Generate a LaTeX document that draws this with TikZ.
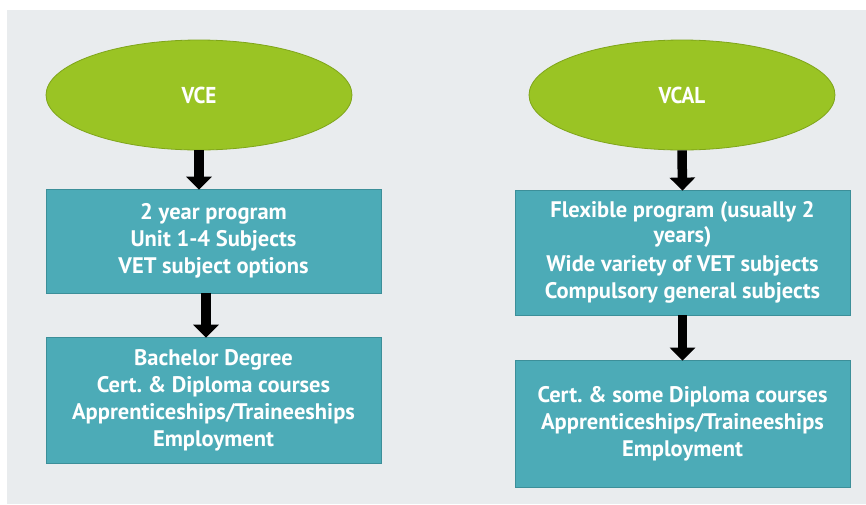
\documentclass[tikz,border=0pt]{standalone}
\usepackage{fontspec}
\setmainfont{PT Sans}
\newfontfamily\condfont[FakeStretch=0.92]{PT Sans}
\usetikzlibrary{shapes.geometric,arrows.meta}
\definecolor{bgc}{HTML}{E9ECEE}
\definecolor{ellfill}{HTML}{9AC424}
\definecolor{elldraw}{HTML}{7FA51A}
\definecolor{boxfill}{HTML}{4CABB7}
\definecolor{boxdraw}{HTML}{3C8F99}
\tikzset{
  oval/.style={ellipse, fill=ellfill, draw=elldraw, line width=0.8pt,
    minimum width=306pt, minimum height=110pt, inner sep=0pt,
    text=white, font=\condfont\bfseries\fontsize{23}{26}\selectfont},
  infobox/.style={rectangle, fill=boxfill, draw=boxdraw, line width=0.8pt,
    inner sep=0pt, align=center, text=white,
    font=\bfseries\fontsize{22.5}{27}\selectfont},
  bigarrow/.style={line width=9.5pt, black, -{Triangle[width=25pt,length=13pt]}, shorten >=-1pt},
}
\begin{document}
\frenchspacing
\begin{tikzpicture}[x=1pt,y=-1pt]
\useasboundingbox (0,0) rectangle (866,504);
\fill[white] (0,0) rectangle (866,504);
\fill[bgc] (7,10) rectangle (866,504);

\node[oval] (vce) at (199,95) {VCE};
\node[oval] (vcal) at (682,95) {VCAL};

\node[infobox, minimum width=335pt, minimum height=104pt] (b1) at (213.5,241)
  {2 year program\\Unit 1-4 Subjects\\VET subject options};
\node[infobox, minimum width=335pt, minimum height=126pt] (b2) at (213.5,400)
  {Bachelor Degree\\Cert. \& Diploma courses\\Apprenticeships/Traineeships\\Employment};

\node[infobox, minimum width=335pt, minimum height=125pt] (c1) at (682.5,252.5)
  {Flexible program (usually 2\\[-2pt]years)\\[2pt]Wide variety of VET subjects\\Compulsory general subjects};
\node[infobox, minimum width=335pt, minimum height=127pt] (c2) at (682.5,423.5)
  {Cert. \& some Diploma courses\\Apprenticeships/Traineeships\\Employment};

\draw[bigarrow] (vce.south) -- ([xshift=-14.5pt]b1.north);
\draw[bigarrow] ([xshift=-7.5pt]b1.south) -- ([xshift=-7.5pt]b2.north);
\draw[bigarrow] (vcal.south) -- (c1.north);
\draw[bigarrow] (c1.south) -- (c2.north);
\end{tikzpicture}
\end{document}
